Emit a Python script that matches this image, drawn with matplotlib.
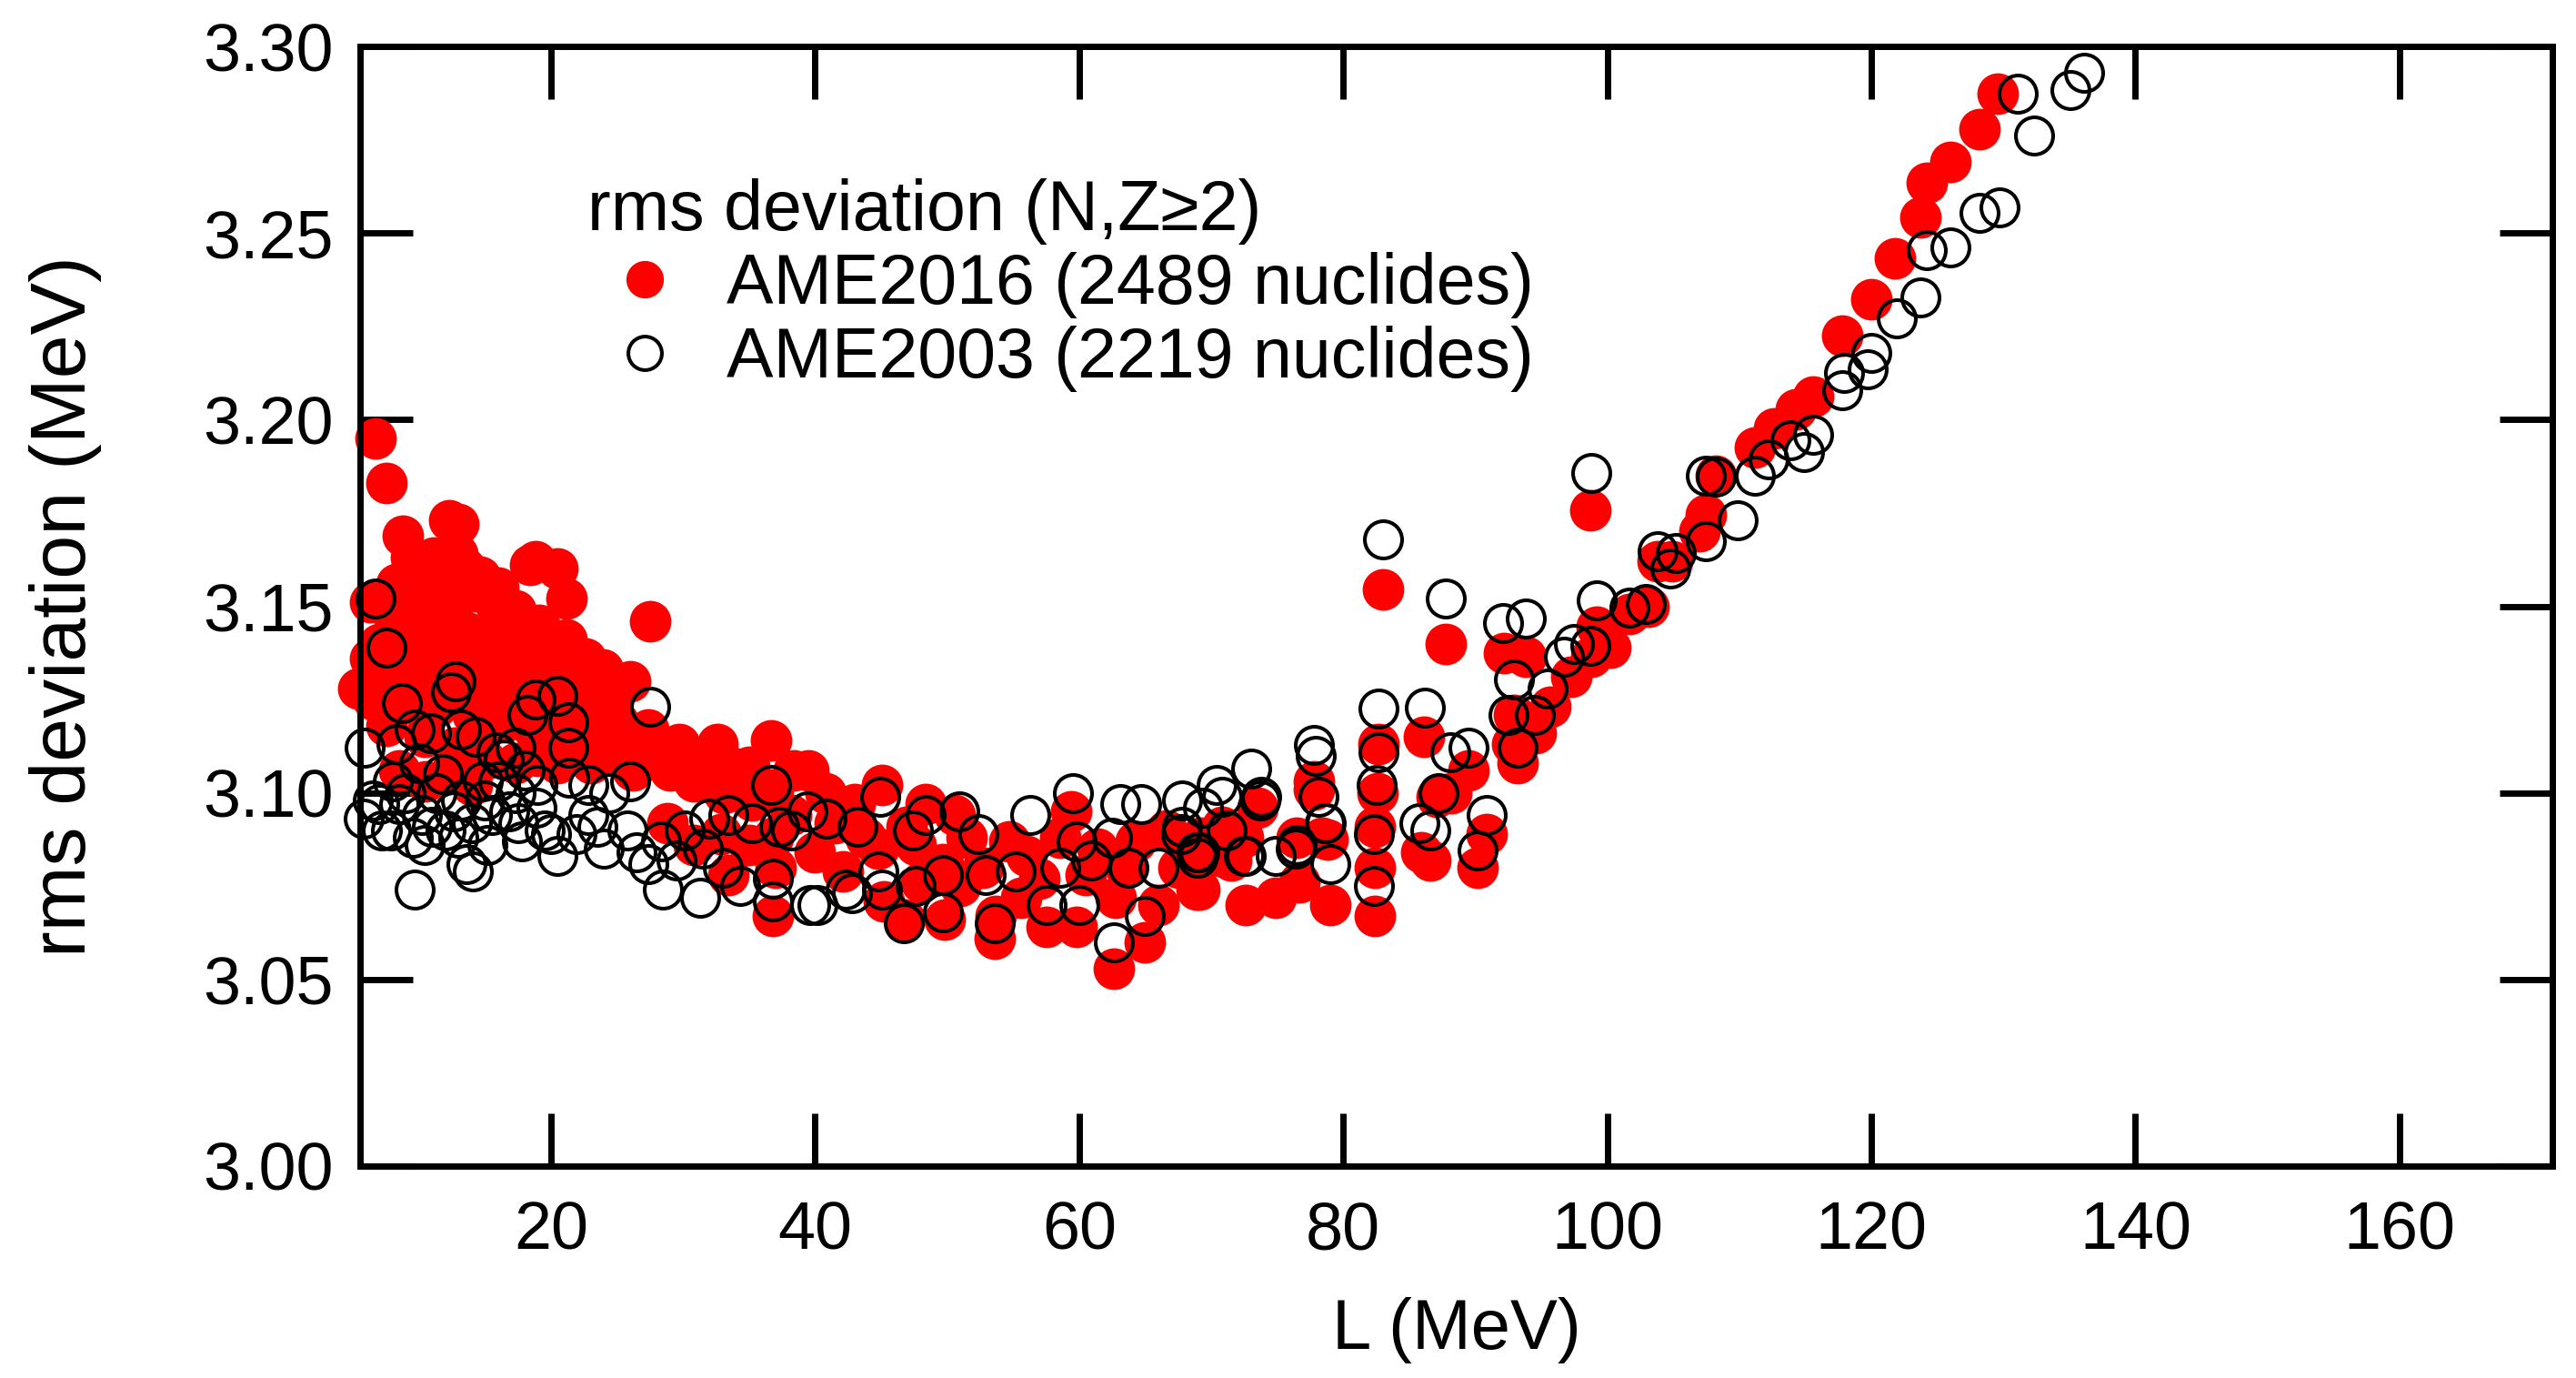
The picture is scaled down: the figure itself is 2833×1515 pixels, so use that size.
import matplotlib.pyplot as plt

plt.rcParams['font.family'] = ['Liberation Sans', 'DejaVu Sans']

# AME2016 rms deviation vs L, (L [MeV], rms [MeV])
ame2016 = [
    (6.7, 3.195), (7.5, 3.183), (8.8, 3.169), (12.3, 3.173), (13.0, 3.172),
    (9.4, 3.163), (11.1, 3.163), (12.9, 3.164), (14.6, 3.158), (18.4, 3.161),
    (18.8, 3.162), (20.5, 3.160), (21.2, 3.152), (27.5, 3.146), (6.3, 3.151),
    (5.4, 3.128), (6.3, 3.136), (8.3, 3.156), (10.4, 3.154), (12.0, 3.158),
    (14.3, 3.154), (15.9, 3.150), (17.3, 3.149), (19.1, 3.145), (21.2, 3.141),
    (22.6, 3.136), (23.9, 3.133), (7.0, 3.140), (9.0, 3.145), (11.3, 3.145),
    (13.6, 3.143), (15.9, 3.140), (18.2, 3.137), (20.0, 3.136), (7.4, 3.130),
    (10.2, 3.134), (12.5, 3.134), (14.8, 3.133), (17.1, 3.131), (19.4, 3.128),
    (21.7, 3.126), (23.3, 3.121), (25.1, 3.119), (26.0, 3.130), (9.0, 3.124),
    (11.3, 3.123), (14.1, 3.121), (16.4, 3.119), (18.7, 3.117), (20.5, 3.115),
    (10.4, 3.115), (12.7, 3.112), (15.0, 3.109), (17.3, 3.108), (20.5, 3.108),
    (22.8, 3.112), (24.6, 3.111), (26.5, 3.109), (27.4, 3.117), (28.5, 3.112),
    (29.7, 3.113), (32.0, 3.108), (33.6, 3.107), (35.0, 3.107), (36.7, 3.114),
    (38.4, 3.106), (32.6, 3.113), (26.2, 3.106), (28.8, 3.092), (30.8, 3.086),
    (32.9, 3.089), (35.0, 3.086), (33.4, 3.078), (37.0, 3.080), (30.8, 3.103),
    (33.1, 3.100), (35.2, 3.098), (36.8, 3.067), (8.5, 3.106), (10.5, 3.103),
    (12.5, 3.106), (14.0, 3.102),
    (8.0, 3.148), (9.5, 3.138), (11.0, 3.128), (12.5, 3.150), (14.0, 3.138),
    (15.5, 3.128), (16.5, 3.145), (17.5, 3.122), (19.0, 3.135), (20.0, 3.126),
    (21.5, 3.132), (22.5, 3.127), (23.5, 3.127), (24.5, 3.125), (25.5, 3.113),
    (7.5, 3.118), (6.5, 3.125), (9.8, 3.130), (13.0, 3.126), (16.0, 3.125),
    (10.0, 3.148), (13.5, 3.160), (16.0, 3.155), (17.8, 3.142), (22.0, 3.119),
    (24.0, 3.117), (27.0, 3.112), (29.0, 3.106), (31.0, 3.109), (34.5, 3.103),
    (8.2, 3.135), (11.8, 3.138), (15.0, 3.117), (19.0, 3.110), (23.0, 3.108),
    (39.5, 3.106), (40.8, 3.100), (43.0, 3.097), (45.1, 3.102), (48.4, 3.097),
    (50.6, 3.094), (36.8, 3.101), (38.2, 3.094), (36.8, 3.088), (40.0, 3.084),
    (42.1, 3.079), (44.8, 3.085), (46.9, 3.091), (47.6, 3.086), (49.7, 3.081),
    (46.8, 3.066), (49.8, 3.066), (45.2, 3.071), (53.6, 3.061), (53.7, 3.067),
    (57.5, 3.064), (59.8, 3.064), (62.6, 3.053), (65.0, 3.060), (59.4, 3.095),
    (62.8, 3.072), (66.0, 3.070), (68.9, 3.074), (68.9, 3.085), (55.6, 3.072),
    (57.0, 3.077), (52.7, 3.080), (54.7, 3.087), (61.4, 3.085), (64.3, 3.087),
    (66.6, 3.090), (70.8, 3.091), (58.6, 3.088),
    (41.5, 3.092), (43.8, 3.088), (51.5, 3.088), (56.0, 3.083), (60.5, 3.078),
    (63.5, 3.080), (67.5, 3.080), (71.5, 3.082), (51.0, 3.075), (48.0, 3.076),
    (69.1, 3.074), (72.6, 3.070), (74.9, 3.072), (76.7, 3.076), (79.0, 3.070),
    (77.8, 3.101), (78.4, 3.088), (73.5, 3.096), (72.4, 3.088), (69.2, 3.088),
    (70.6, 3.083), (76.5, 3.088), (78.8, 3.0875), (77.8, 3.103),
    (82.7, 3.113), (82.6, 3.100), (82.4, 3.091), (82.4, 3.080), (82.4, 3.067),
    (83.0, 3.1545), (86.1, 3.115), (87.1, 3.099), (85.9, 3.084), (86.6, 3.082),
    (87.8, 3.140), (88.2, 3.100), (89.5, 3.106), (90.9, 3.089), (90.2, 3.080),
    (92.2, 3.1375), (93.8, 3.1365), (92.9, 3.121), (94.6, 3.116), (93.2, 3.108),
    (92.8, 3.113), (95.7, 3.123), (97.3, 3.131), (98.8, 3.1365), (99.2, 3.1446),
    (100.2, 3.139), (101.7, 3.148), (103.1, 3.150), (103.8, 3.162), (104.9, 3.162),
    (107.0, 3.170), (107.5, 3.1745), (98.7, 3.1757),
    (108.2, 3.185), (111.2, 3.1925), (112.6, 3.1976), (114.3, 3.2028),
    (115.6, 3.2062), (117.8, 3.2225), (120.0, 3.2322), (121.8, 3.2432),
    (123.7, 3.2542), (124.2, 3.2634), (126.0, 3.2690), (128.2, 3.2779),
    (129.6, 3.2873),
]

# AME2003 rms deviation vs L
ame2003 = [
    (6.7, 3.152), (7.5, 3.139), (8.7, 3.124), (12.8, 3.130), (12.4, 3.127),
    (18.8, 3.125), (20.5, 3.126), (21.3, 3.119), (27.5, 3.123), (18.2, 3.121),
    (5.9, 3.112), (8.3, 3.113), (9.7, 3.117), (10.9, 3.116), (13.2, 3.117),
    (14.3, 3.115), (15.9, 3.111), (17.3, 3.112), (21.3, 3.112), (21.4, 3.104),
    (26.0, 3.103), (22.8, 3.102), (36.7, 3.102), (5.8, 3.093), (7.0, 3.097),
    (7.9, 3.090), (9.0, 3.100), (10.2, 3.094), (10.4, 3.086), (11.3, 3.100),
    (12.0, 3.090), (13.2, 3.098), (13.6, 3.081), (14.8, 3.103), (15.5, 3.094),
    (16.4, 3.109), (17.3, 3.100), (17.5, 3.092), (18.9, 3.096), (20.0, 3.089),
    (20.5, 3.083), (9.7, 3.074), (14.1, 3.079), (21.9, 3.089), (22.8, 3.094),
    (24.4, 3.100), (25.8, 3.090), (27.4, 3.081), (28.5, 3.074), (28.3, 3.087),
    (30.1, 3.090), (32.0, 3.093), (31.3, 3.072), (33.4, 3.094), (34.3, 3.075),
    (35.2, 3.092), (36.8, 3.071), (37.3, 3.091),
    (11.8, 3.105), (12.6, 3.095), (14.0, 3.092), (15.0, 3.098), (16.0, 3.103),
    (16.8, 3.095), (18.0, 3.106), (19.0, 3.102), (19.5, 3.090), (8.5, 3.097),
    (10.0, 3.108), (11.0, 3.091), (13.0, 3.088), (15.2, 3.086), (17.8, 3.087),
    (23.5, 3.091), (24.0, 3.085), (26.5, 3.084), (29.5, 3.082), (31.5, 3.085),
    (33.0, 3.080), (6.5, 3.098), (7.2, 3.090), (8.0, 3.103), (9.5, 3.088),
    (44.9, 3.099), (48.4, 3.094), (50.9, 3.095), (59.5, 3.100), (56.3, 3.094),
    (63.1, 3.097), (64.7, 3.097), (39.4, 3.095), (38.2, 3.090), (40.9, 3.093),
    (43.2, 3.091), (47.4, 3.090), (52.4, 3.089), (36.8, 3.077), (39.6, 3.070),
    (40.2, 3.070), (42.8, 3.073), (45.1, 3.074), (46.7, 3.065), (49.7, 3.068),
    (47.6, 3.075), (53.6, 3.065), (52.9, 3.078), (55.2, 3.079), (57.5, 3.070),
    (60.0, 3.070), (62.6, 3.060), (65.0, 3.067), (58.6, 3.080), (60.9, 3.082),
    (63.7, 3.080), (66.0, 3.080), (68.9, 3.084), (59.8, 3.087), (62.5, 3.088),
    (67.8, 3.091), (44.8, 3.079), (49.7, 3.078), (42.3, 3.074),
    (70.4, 3.102), (67.8, 3.098), (73.8, 3.099), (70.8, 3.099), (69.4, 3.096),
    (69.1, 3.084), (72.6, 3.083), (74.9, 3.083), (76.5, 3.086), (79.0, 3.081),
    (78.6, 3.092), (78.1, 3.099), (82.5, 3.102), (82.7, 3.111), (82.3, 3.089),
    (82.3, 3.075), (87.2, 3.100), (85.8, 3.092), (86.6, 3.090), (90.9, 3.094),
    (90.2, 3.0845), (88.1, 3.111), (89.5, 3.112), (73.0, 3.1066), (77.8, 3.1128),
    (77.9, 3.110), (78.7, 3.092), (73.7, 3.098), (72.5, 3.083), (76.4, 3.085),
    (67.7, 3.089), (69.0, 3.0825), (71.2, 3.090), (82.7, 3.1227), (86.2, 3.1229),
    (87.8, 3.152), (83.0, 3.168),
    (92.1, 3.1456), (93.8, 3.1468), (92.9, 3.1304), (95.5, 3.128), (92.5, 3.121),
    (94.5, 3.121), (93.2, 3.112), (96.7, 3.1365), (97.5, 3.140), (98.7, 3.1395),
    (99.2, 3.1517), (101.7, 3.1496), (102.9, 3.1506), (103.8, 3.1648),
    (105.2, 3.1643), (104.8, 3.160), (107.5, 3.1674), (107.5, 3.185),
    (98.8, 3.1856), (108.2, 3.1847), (109.9, 3.173), (111.2, 3.185),
    (112.2, 3.1893), (113.9, 3.1945), (114.9, 3.1912), (115.6, 3.1959),
    (117.8, 3.208), (117.9, 3.2126), (119.7, 3.2136), (120.0, 3.2178),
    (121.9, 3.2271), (123.7, 3.2327), (124.2, 3.2453), (126.0, 3.2462),
    (128.2, 3.2555), (129.7, 3.2569), (131.1, 3.2874), (132.3, 3.2762),
    (135.1, 3.2884), (136.1, 3.2929),
]

x_ticks = [20, 40, 60, 80, 100, 120, 140, 160]
y_ticks = [3.00, 3.05, 3.10, 3.15, 3.20, 3.25, 3.30]

fig = plt.figure(figsize=(28.33, 15.15), dpi=100)
ax = fig.add_axes([0.1398, 0.1538, 0.8511, 0.8125])

l16, r16 = zip(*ame2016)
l03, r03 = zip(*ame2003)

ax.plot(l16, r16, ls='none', marker='o', ms=33, mew=0, color='#ff0000',
        clip_on=False, label='AME2016 (2489 nuclides)')
ax.plot(l03, r03, ls='none', marker='o', ms=29.5, mew=2.9, mfc='none',
        mec='black', clip_on=False, label='AME2003 (2219 nuclides)')

ax.set_xlim(5.54, 171.6)
ax.set_ylim(3.00, 3.30)
ax.set_xticks(x_ticks)
ax.set_yticks(y_ticks)
ax.set_yticklabels([f'{v:.2f}' for v in y_ticks])

for s in ax.spines.values():
    s.set_linewidth(5)
ax.tick_params(direction='in', length=42, width=5, top=True, right=True,
               labelsize=53)
ax.tick_params(axis='x', pad=27)
ax.tick_params(axis='y', pad=21)

ax.set_xlabel('L (MeV)', fontsize=56)
ax.set_ylabel('rms deviation (MeV)', fontsize=62)
ax.xaxis.set_label_coords(0.5, -0.117)
ax.yaxis.set_label_coords(-0.118, 0.5)

leg = ax.legend(title='rms deviation (N,Z≥2)', loc='upper left',
                bbox_to_anchor=(0.1037, 0.882), frameon=False, fontsize=55.5,
                title_fontsize=55.5, alignment='left', borderpad=0,
                borderaxespad=0, handlelength=1.64, handletextpad=0.34,
                labelspacing=0.1, markerscale=0.9)

fig.savefig('out.png', dpi=100)
